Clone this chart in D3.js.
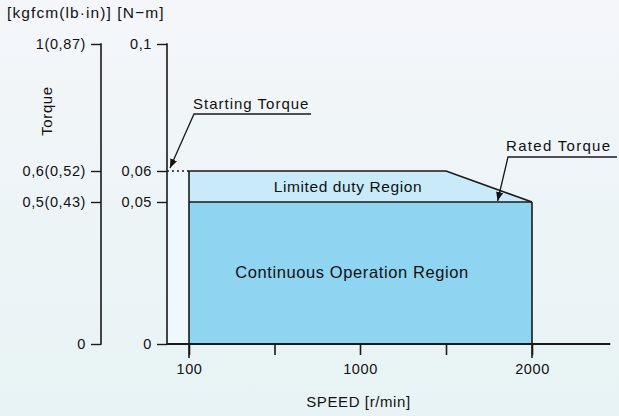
<!DOCTYPE html>
<html><head><meta charset="utf-8">
<script src="https://cdn.jsdelivr.net/npm/d3@7"></script>
<style>
html,body{margin:0;padding:0;}
svg{display:block;font-family:"Liberation Sans",Arial,sans-serif;}
text{letter-spacing:0.6px;}
</style></head>
<body>
<svg id="c" width="619" height="416"></svg>
<script>
// ---- data ----
const torqueTicksNm = [0, 0.05, 0.06, 0.1];
const torqueLabelsNm = ["0", "0,05", "0,06", "0,1"];
const torqueLabelsKgf = ["0", "0,5(0,43)", "0,6(0,52)", "1(0,87)"];
const speedTicks = [100, 550, 1000, 1500, 2000];
const speedTickLabels = ["100", "", "1000", "", "2000"];
const limitedDuty = [ {speed:100, torque:0.06}, {speed:1500, torque:0.06}, {speed:2000, torque:0.05} ];
const continuous = [ {speed:100, torque:0.05}, {speed:2000, torque:0.05} ];
const startingTorque = 0.06;
const ratedTorque = 0.05;
const ratedArrowSpeed = 1800;
const speedMax = 2455;

const svg = d3.select("#c");
const defs = svg.append("defs");
const bg = defs.append("linearGradient").attr("id","bg").attr("x1",0).attr("y1",0).attr("x2",0).attr("y2",1);
bg.append("stop").attr("offset","0%").attr("stop-color","#f4f6fa");
bg.append("stop").attr("offset","100%").attr("stop-color","#e7f3f4");
svg.append("rect").attr("width",619).attr("height",416).attr("fill","url(#bg)");
defs.append("marker").attr("id","arr").attr("viewBox","0 0 10 10").attr("refX",10).attr("refY",5)
  .attr("markerWidth",9).attr("markerHeight",9).attr("markerUnits","userSpaceOnUse").attr("orient","auto")
  .append("path").attr("d","M0,1 L10,5 L0,9 Z").attr("fill","#111");

// scales (piecewise as in the original drawing)
const y = d3.scaleLinear().domain([0,0.05,0.06,0.1]).range([344,202,171,44]);
const x = d3.scaleLinear().domain([100,1000,2000]).range([189,360,532]);
const axR = 167, axL = 101;
const ink = "#1a1a1a";
const fs = 14.5;

// light strip between axis and region start
svg.append("rect").attr("x",axR+1).attr("y",y(startingTorque)).attr("width",x(100)-axR-1)
  .attr("height",y(0)-y(startingTorque)).attr("fill","#eef8fd");

// regions
const area = d3.area().x(d=>x(d.speed)).y0(y(0)).y1(d=>y(d.torque));
svg.append("path").datum(limitedDuty).attr("d",area).attr("fill","#c8eaf9");
svg.append("path").datum(continuous).attr("d",area).attr("fill","#8fd4f1");

// outlines
const line = d3.line().x(d=>x(d.speed)).y(d=>y(d.torque));
svg.append("path").datum(limitedDuty).attr("d",line).attr("fill","none").attr("stroke",ink).attr("stroke-width",1.6);
svg.append("path").datum(continuous).attr("d",line).attr("fill","none").attr("stroke",ink).attr("stroke-width",1.6);
svg.append("line").attr("x1",x(100)).attr("x2",x(100)).attr("y1",y(startingTorque)).attr("y2",y(0)+14).attr("stroke",ink).attr("stroke-width",1.6);
svg.append("line").attr("x1",x(2000)).attr("x2",x(2000)).attr("y1",y(ratedTorque)).attr("y2",y(0)+14).attr("stroke",ink).attr("stroke-width",1.6);
// dotted starting torque
svg.append("line").attr("x1",axR).attr("x2",x(100)).attr("y1",y(startingTorque)).attr("y2",y(startingTorque))
  .attr("stroke",ink).attr("stroke-width",1.4).attr("stroke-dasharray","2,3");

// right (N-m) axis
const axisR = d3.axisLeft(y).tickValues(torqueTicksNm).tickFormat((d,i)=>torqueLabelsNm[i]).tickSize(10).tickPadding(5);
const gR = svg.append("g").attr("transform",`translate(${axR},0)`).call(axisR);
// left (kgfcm) axis
const axisL = d3.axisLeft(y).tickValues(torqueTicksNm).tickFormat((d,i)=>torqueLabelsKgf[i]).tickSize(10).tickPadding(5);
const gL = svg.append("g").attr("transform",`translate(${axL},0)`).call(axisL);
[gR,gL].forEach(g=>{
  g.select(".domain").remove();
  g.selectAll(".tick line").attr("stroke",ink).attr("stroke-width",1.4);
  g.selectAll(".tick text").attr("fill","#111").attr("font-size",fs).attr("font-family","Liberation Sans, Arial, sans-serif");
});
[axR,axL].forEach(ax=>{
  svg.append("line").attr("x1",ax).attr("x2",ax).attr("y1",y(0.1)-0.7).attr("y2",y(0)+0.7).attr("stroke",ink).attr("stroke-width",1.6);
});

// x axis
svg.append("line").attr("x1",axR).attr("x2",x(speedMax)).attr("y1",y(0)).attr("y2",y(0)).attr("stroke",ink).attr("stroke-width",1.8);
const axisX = d3.axisBottom(x).tickValues(speedTicks).tickFormat((d,i)=>speedTickLabels[i]).tickSize(11).tickPadding(9);
const gX = svg.append("g").attr("transform",`translate(0,${y(0)})`).call(axisX);
gX.select(".domain").remove();
gX.selectAll(".tick line").attr("stroke",ink).attr("stroke-width",1.6);
gX.selectAll(".tick text").attr("fill","#111").attr("font-size",fs).attr("font-family","Liberation Sans, Arial, sans-serif");

// titles
svg.append("text").attr("x",7).attr("y",18).attr("font-size",15.5).style("letter-spacing","1.1px").attr("fill","#111").text("[kgfcm(lb·in)] [N−m]");
svg.append("text").attr("transform","translate(52,111) rotate(-90)").attr("text-anchor","middle").attr("font-size",15).attr("fill","#111").text("Torque");
svg.append("text").attr("x",(x(100)+x(2000))/2-2).attr("y",407).attr("text-anchor","middle").attr("font-size",15).attr("fill","#111").text("SPEED [r/min]");

// region labels
svg.append("text").attr("x",348).attr("y",192).attr("text-anchor","middle").attr("font-size",15.5).attr("fill","#111").text("Limited duty Region");
svg.append("text").attr("x",352).attr("y",278).attr("text-anchor","middle").attr("font-size",16.5).attr("fill","#111").text("Continuous Operation Region");

// annotations
svg.append("text").attr("x",193).attr("y",109).attr("font-size",15).style("letter-spacing","1px").attr("fill","#111").text("Starting Torque");
svg.append("polyline").attr("points",`311,114 194,114 ${axR+3},${y(startingTorque)-3}`).attr("fill","none")
  .attr("stroke",ink).attr("stroke-width",1.3).attr("marker-end","url(#arr)");
svg.append("text").attr("x",506).attr("y",151).attr("font-size",15).style("letter-spacing","1.3px").attr("fill","#111").text("Rated Torque");
svg.append("polyline").attr("points",`617,157 508,157 ${x(ratedArrowSpeed)},${y(ratedTorque)-1}`).attr("fill","none")
  .attr("stroke",ink).attr("stroke-width",1.3).attr("marker-end","url(#arr)");
</script>
</body></html>
